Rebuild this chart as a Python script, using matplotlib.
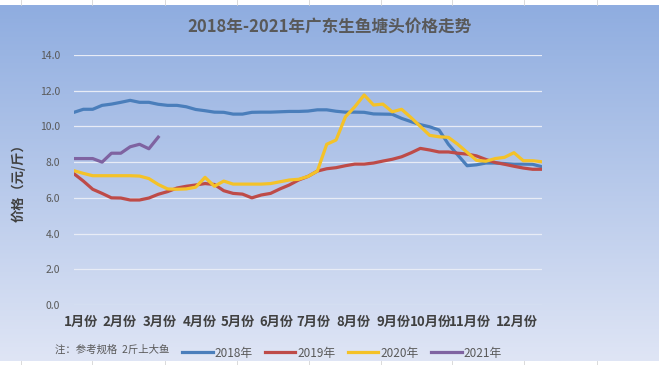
import numpy as np
import matplotlib
matplotlib.use('Agg')
import matplotlib.pyplot as plt
from matplotlib.lines import Line2D

plt.rcParams['font.family'] = ['Noto Sans CJK SC', 'DejaVu Sans']

# weekly prices, yuan per jin
price_2018 = [10.79, 10.96, 10.96, 11.18, 11.25, 11.35, 11.46, 11.35, 11.35, 11.24,
              11.18, 11.18, 11.10, 10.95, 10.88, 10.80, 10.79, 10.69, 10.69, 10.79,
              10.80, 10.80, 10.82, 10.84, 10.84, 10.86, 10.93, 10.93, 10.85, 10.80,
              10.80, 10.79, 10.70, 10.69, 10.68, 10.45, 10.27, 10.10, 9.98, 9.80,
              9.00, 8.40, 7.80, 7.85, 7.95, 7.95, 7.92, 7.89, 7.89, 7.88, 7.74]
price_2019 = [7.35, 6.94, 6.48, 6.25, 6.00, 5.99, 5.88, 5.88, 5.99, 6.20,
              6.35, 6.55, 6.65, 6.72, 6.80, 6.75, 6.40, 6.25, 6.21, 6.00,
              6.16, 6.25, 6.50, 6.72, 7.00, 7.20, 7.50, 7.63, 7.69, 7.80,
              7.89, 7.89, 7.95, 8.06, 8.16, 8.30, 8.52, 8.77, 8.68, 8.57,
              8.57, 8.50, 8.45, 8.35, 8.15, 7.98, 7.88, 7.77, 7.67, 7.60, 7.60]
price_2020 = [7.52, 7.37, 7.24, 7.24, 7.24, 7.24, 7.24, 7.22, 7.08, 6.75,
              6.50, 6.48, 6.50, 6.60, 7.15, 6.65, 6.94, 6.77, 6.77, 6.77,
              6.77, 6.80, 6.90, 7.00, 7.04, 7.20, 7.50, 9.00, 9.24, 10.54,
              11.10, 11.76, 11.20, 11.25, 10.82, 10.96, 10.50, 10.00, 9.50, 9.42,
              9.39, 9.00, 8.55, 8.10, 8.05, 8.20, 8.27, 8.53, 8.08, 8.08, 8.02]
price_2021 = [8.20, 8.20, 8.20, 8.00, 8.50, 8.50, 8.86, 9.00, 8.75, 9.40]

months = ['1月份', '2月份', '3月份', '4月份', '5月份', '6月份',
          '7月份', '8月份', '9月份', '10月份', '11月份', '12月份']
month_pos = [0.75, 4.9, 9.2, 13.4, 17.5, 21.6, 25.6, 29.9, 34.1, 38.1, 42.3, 47.3]

series = [('2018年', price_2018, '#4A7EBB'),
          ('2019年', price_2019, '#BE4B48'),
          ('2020年', price_2020, '#F4C228'),
          ('2021年', price_2021, '#7F63A1')]

W, H = 659, 365
fig = plt.figure(figsize=(W / 100, H / 100), dpi=100)

# gradient chart background
bg = fig.add_axes([0, 0, 1, 1])
bg.axis('off')
top = np.array([143, 173, 224]) / 255
bot = np.array([223, 229, 245]) / 255
t = np.linspace(0, 1, 256)[:, None]
grad = (top[None, :] * (1 - t) + bot[None, :] * t)[:, None, :]
bg.imshow(grad, extent=[0, W, 361, 5], aspect='auto')
for xc in [21, 92, 165, 237, 309, 381, 452, 524, 597]:
    bg.plot([xc, xc], [0, 5], color='#d4d4d4', lw=0.6)
    bg.plot([xc, xc], [361, H], color='#d4d4d4', lw=0.6)
bg.set_xlim(0, W)
bg.set_ylim(H, 0)

ax = fig.add_axes([74 / W, (H - 305) / H, 468 / W, 250 / H])
ax.patch.set_alpha(0)
for name, vals, col in series:
    ax.plot(np.arange(len(vals)), vals, color=col, lw=2.3, solid_joinstyle='round')

ax.set_xlim(0, 50)
ax.set_ylim(0, 14)
ax.set_yticks(np.arange(0, 15, 2))
ax.set_yticklabels([f'{v:.1f}' for v in np.arange(0, 15, 2)], fontsize=7.5, color='#595959')
ax.yaxis.grid(True, color='#e8ecf6', lw=0.9)
ax.set_axisbelow(True)
ax.set_xticks(month_pos)
ax.set_xticklabels(months, fontsize=9.5, fontweight='bold', color='#404040')
ax.tick_params(axis='x', length=0, pad=7)
ax.tick_params(axis='y', length=0, pad=10)
for s in ax.spines.values():
    s.set_visible(False)

ax.set_ylabel('价格（元/斤）', fontsize=9.5, fontweight='bold', color='#404040', labelpad=10)

fig.text(330 / W, 1 - 28 / H, '2018年-2021年广东生鱼塘头价格走势', ha='center', va='center',
         fontsize=12, fontweight='bold', color='#595959')
fig.text(55 / W, 1 - 350 / H, '注：参考规格  2斤上大鱼', ha='left', va='center',
         fontsize=7.5, color='#595959')

handles = [Line2D([], [], color=c, lw=2.3) for _, _, c in series]
fig.legend(handles, [n for n, _, _ in series], loc='center', bbox_to_anchor=(342 / W, 1 - 353 / H),
           ncol=4, frameon=False, fontsize=8.5, labelcolor='#595959', handlelength=2.6,
           handletextpad=0.2, columnspacing=1.0)

fig.savefig('out.png', dpi=100)
